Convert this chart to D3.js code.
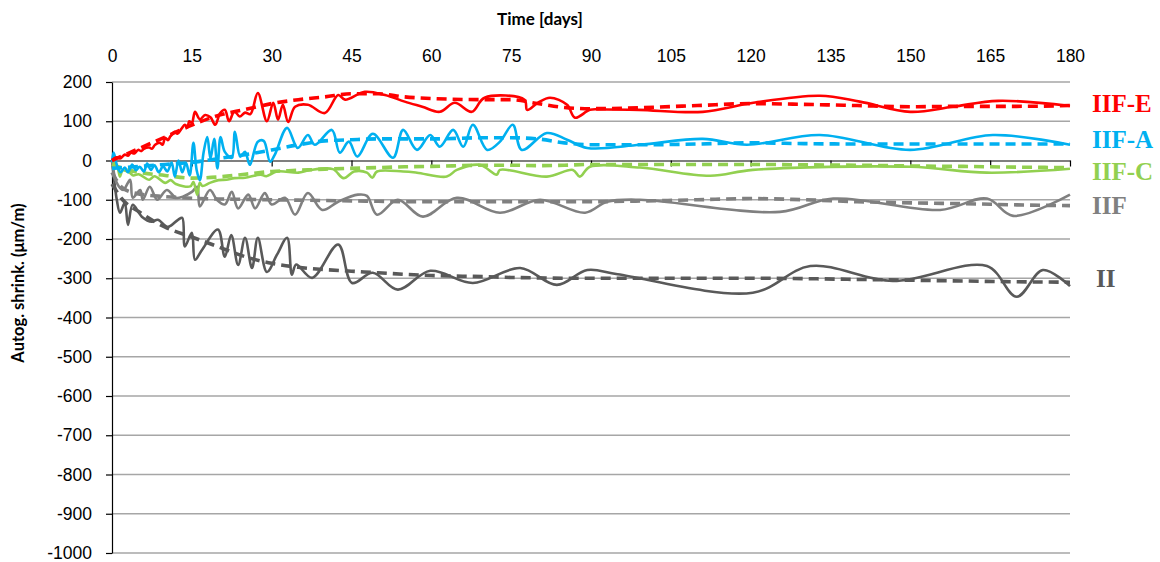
<!DOCTYPE html>
<html lang="en">
<head>
  <meta charset="UTF-8">
  <title>Autogenous shrinkage</title>
  <script src="https://d3js.org/d3.v7.min.js"></script>
  <style>
    body { margin: 0; background: #fff; }
    svg { font-family: Lato, sans-serif; display: block; }
    .tick text { font-size: 17.5px; fill: #000; }
  </style>
</head>
<body>
  <svg width="1160" height="562"></svg>
  <script>
    const xTicks = [0, 15, 30, 45, 60, 75, 90, 105, 120, 135, 150, 165, 180];
    const yTicks = [200, 100, 0, -100, -200, -300, -400, -500, -600, -700, -800, -900, -1000];

    const seriesNames = ["IIF-E", "IIF-A", "IIF-C", "IIF", "II"];
    const seriesColors = ["#ff0000", "#00b0f0", "#92d050", "#808080", "#595959"];

    // measured (solid) curves
    const iifeDays = [0,0.8,1.5,2.4,3,3.5,4.2,4.9,5.5,6,7,7.5,8.1,9,9.5,10,10.5,11,11.8,12.3,13,13.7,14.2,14.5,15,15.6,16.5,17.5,18.5,19.4,20.3,21.2,22,23,24,25,26,27.4,29.1,30.3,31.2,32.1,33.1,34.4,36.8,40,42.5,43.8,47.5,51.3,55,58.3,61.6,64.4,67.6,70,77.5,78,80,82.3,85.5,87,89.8,92,99,111,120.5,133,140.5,150,158,166.5,180];
    const iifeVals = [0,8,5,15,12,20,18,27,24,30,33,30,40,45,40,58,52,62,73,68,80,91,85,100,95,124,105,116,110,91,120,129,100,125,112,122,118,172,100,147,104,142,98,137,142,121,167,155,175,167,150,137,124,147,124,160,155,129,147,160,142,109,129,130,129,124,147,165,150,124,137,152,139];

    const iifaDays = [0,0.3,1,1.6,2.4,3,3.8,4.5,5.2,6,6.6,7.3,8,8.8,9.6,10.4,11.2,11.8,12.5,13.2,13.9,14.6,15.3,15.9,16.5,17.2,17.9,18.5,19.2,19.8,20.4,21.2,22.5,23.1,24.1,25,25.9,27.4,28.5,29.7,30.6,32.9,34.9,36.8,38.1,41.3,42.8,44.5,46.1,49,52.8,54.7,57.3,59.8,61.6,64.1,66,67.8,70.5,72.9,75.3,77,81.7,85.5,89.3,99.2,111,119.3,133,150,165.5,180];
    const iifaVals = [-5,20,-15,-30,-18,-30,-10,-25,-16,-28,-8,-24,-12,-30,-15,-28,-5,-41,0,-30,-6,-38,45,-24,-50,20,60,5,55,-20,60,22,7,73,10,22,-11,48,50,-3,15,83,32,65,40,78,20,48,10,68,7,78,27,65,35,78,35,91,27,48,91,27,70,53,32,40,55,40,65,27,65,40];

    const iifcDays = [0,0.5,1,1.5,2,3.3,4,5,7,8,10,11,12,14.7,15.3,16,16.5,17,18.4,20,21.5,23,25,27,28,29,31,35,37,41.5,43.5,45.5,47.9,48.9,49.8,54.7,57.3,62.9,64.8,69.1,72.3,72.9,81.7,86.6,87.9,89.8,99.2,112.4,120.4,150,164.4,180];
    const iifcVals = [0,-8,-15,-41,-25,-31,-38,-35,-49,-40,-57,-50,-60,-66,-55,-87,-57,-65,-57,-50,-49,-45,-44,-38,-36,-40,-28,-31,-25,-22,-45,-28,-31,-44,-28,-28,-31,-41,-24,-11,-36,-24,-41,-24,-41,-16,-18,-39,-24,-16,-31,-21];

    const iifDays = [0,0.9,2.1,3.4,3.9,5.3,5.8,7.1,8.5,10.3,12,13.3,15,16,16.5,18.4,19.7,21.2,22.5,23.7,25.6,26.9,28.7,30,32.5,34.4,36.8,39.5,42.5,46.2,47.9,49.8,53.7,58.4,64.8,72.9,80.4,88.9,93,99.2,125.5,135.5,155.6,164.4,169.3,180];
    const iifVals = [0,-57,-75,-49,-95,-75,-100,-67,-100,-75,-95,-92,-80,-67,-117,-75,-100,-112,-80,-122,-87,-122,-83,-112,-95,-138,-83,-126,-105,-87,-90,-138,-100,-143,-95,-133,-100,-133,-105,-100,-131,-97,-126,-97,-141,-87];

    const iiDays = [0,0.2,0.9,1.5,2.4,3,3.9,5.6,7.5,8.6,10.5,12.4,13.2,13.7,15,15.6,16.9,19.9,21.2,22.4,23.7,25,26.3,27.4,29.1,31,32.9,33.8,34.6,37.6,42.5,45.1,49,53.7,59.8,67.8,76.7,83.6,89.3,95,120.4,131.2,146.7,164.4,170,174.9,180];
    const iiVals = [0,-24,-100,-133,-108,-164,-113,-143,-156,-151,-169,-151,-146,-219,-184,-253,-228,-176,-245,-190,-266,-197,-274,-197,-284,-240,-197,-291,-265,-299,-214,-312,-286,-329,-281,-312,-274,-317,-279,-290,-337,-269,-307,-269,-347,-279,-320];

    // fitted (dashed) curves
    const fitDays = [0,2,5,10,15,20,25,30,35,40,45,50,55,60,70,75,80,85,90,100,110,120,130,140,150,160,170,180];
    const iifeFit = [0,12,30,60,90,115,130,145,155,162,170,170,162,158,155,155,145,135,132,135,140,145,143,140,137,138,138,140];
    const iifaFit = [-20,-18,-15,-10,-5,5,15,27,40,50,53,55,55,55,58,58,55,45,40,40,42,45,43,42,42,42,42,42];
    const iifcFit = [-10,-20,-30,-38,-45,-42,-35,-28,-25,-22,-20,-18,-16,-15,-12,-12,-13,-12,-10,-10,-10,-10,-11,-12,-14,-15,-17,-18];
    const iifFit = [-30,-70,-85,-92,-96,-98,-99,-100,-101,-102,-103,-104,-105,-105,-105,-105,-105,-105,-105,-103,-100,-97,-100,-105,-108,-110,-113,-115];
    const iiFit = [-60,-100,-130,-170,-195,-220,-245,-262,-272,-278,-282,-286,-290,-293,-296,-298,-299,-300,-300,-300,-300,-300,-301,-303,-305,-307,-309,-310];

    const measured = [
      [iifeDays, iifeVals], [iifaDays, iifaVals], [iifcDays, iifcVals],
      [iifDays, iifVals], [iiDays, iiVals]
    ];
    const fitted = [iifeFit, iifaFit, iifcFit, iifFit, iiFit];

    const svg = d3.select("svg");
    const x = d3.scaleLinear().domain([0, 180]).range([112, 1070]);
    const y = d3.scaleLinear().domain([-1000, 200]).range([553, 82]);

    // horizontal gridlines
    svg.append("g").selectAll("line")
      .data(yTicks.filter(v => v !== 0))
      .join("line")
      .attr("x1", x(0)).attr("x2", x(180))
      .attr("y1", d => y(d)).attr("y2", d => y(d))
      .attr("stroke", "#a6a6a6").attr("stroke-width", 1.3);

    // y axis
    const yAxis = svg.append("g")
      .attr("transform", `translate(${x(0)},0)`)
      .call(d3.axisLeft(y).tickValues(yTicks).tickSize(6).tickSizeOuter(0)
        .tickPadding(14).tickFormat(d => String(d)));
    yAxis.selectAll("line, path").attr("stroke", "#000").attr("stroke-width", 1.2);

    // zero line with ticks
    const zeroAxis = svg.append("g")
      .attr("transform", `translate(0,${y(0)})`)
      .call(d3.axisBottom(x).tickValues(xTicks).tickSize(6).tickSizeOuter(0).tickFormat(""));
    zeroAxis.selectAll("line, path").attr("stroke", "#000").attr("stroke-width", 1.2);

    // top labels
    const topAxis = svg.append("g")
      .attr("transform", "translate(0,62)")
      .call(d3.axisTop(x).tickValues(xTicks).tickSize(0).tickPadding(0)
        .tickFormat(d => String(d)));
    topAxis.select(".domain").remove();

    // titles
    svg.append("text")
      .attr("x", 540).attr("y", 25)
      .attr("text-anchor", "middle")
      .attr("font-weight", "bold").attr("font-size", 17)
      .text("Time [days]");
    svg.append("text")
      .attr("transform", "translate(24,283) rotate(-90)")
      .attr("text-anchor", "middle")
      .attr("font-weight", "bold").attr("font-size", 16.5)
      .text("Autog. shrink. (μm/m)");

    const smooth = d3.line()
      .x(d => x(d[0])).y(d => y(d[1]))
      .curve(d3.curveCatmullRom.alpha(0.5));
    const fitLine = d3.line()
      .x(d => x(d[0])).y(d => y(d[1]))
      .curve(d3.curveMonotoneX);

    // draw back to front
    for (let i = seriesNames.length - 1; i >= 0; i--) {
      const [days, vals] = measured[i];
      svg.append("path")
        .attr("d", smooth(days.map((d, k) => [d, vals[k]])))
        .attr("fill", "none")
        .attr("stroke", seriesColors[i])
        .attr("stroke-width", 2.6)
        .attr("stroke-linejoin", "round");
      svg.append("path")
        .attr("d", fitLine(fitDays.map((d, k) => [d, fitted[i][k]])))
        .attr("fill", "none")
        .attr("stroke", seriesColors[i])
        .attr("stroke-width", 3.6)
        .attr("stroke-dasharray", "10,6");
    }

    // series labels at the right end
    const labelShift = [-2, -5, 4, 0, -4];
    svg.append("g").selectAll("text")
      .data(seriesNames)
      .join("text")
      .attr("x", (d, i) => i === 4 ? 1096 : 1092)
      .attr("y", (d, i) => y(fitted[i][fitted[i].length - 1]) + labelShift[i])
      .attr("dy", "0.35em")
      .attr("fill", (d, i) => seriesColors[i])
      .attr("font-family", "'Liberation Serif', serif")
      .attr("font-weight", "bold")
      .attr("font-size", 25)
      .text(d => d);
  </script>
</body>
</html>
